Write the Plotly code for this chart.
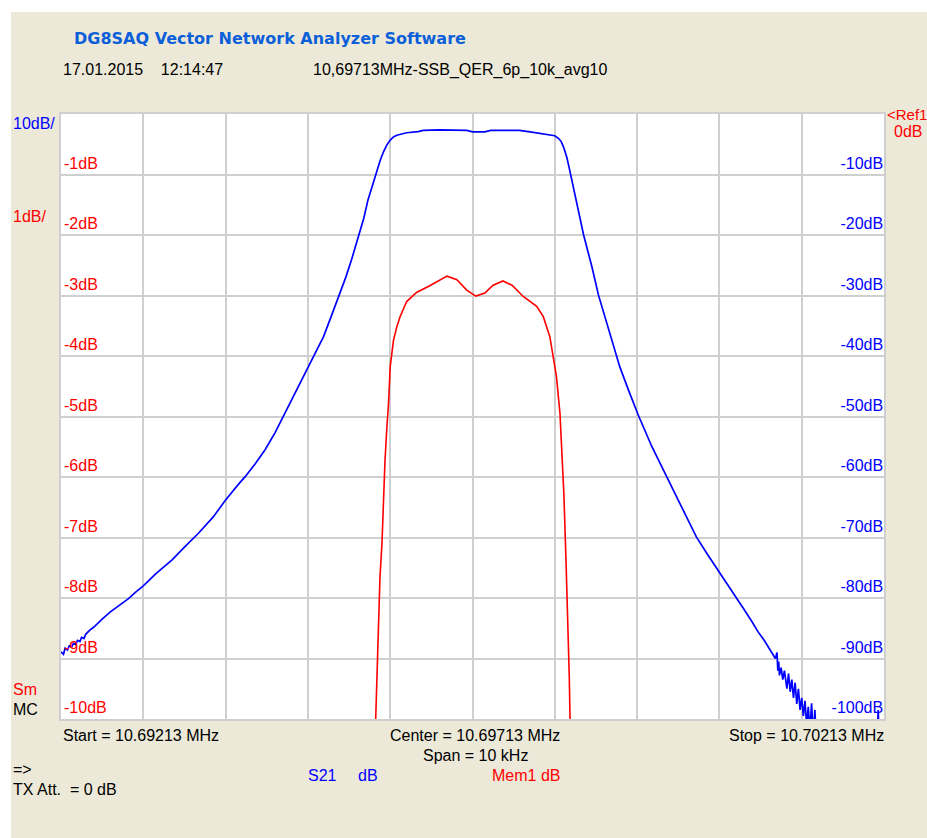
import plotly.graph_objects as go

# ---------------- data ----------------
center_mhz = 10.69713
span_khz = 10

# S21 (blue), offset from center in kHz, level in dB (10 dB/div)
s21_khz = [-5.00, -4.97, -4.95, -4.92, -4.90, -4.87, -4.85, -4.82, -4.80, -4.77, -4.75, -4.72,
           -4.70, -4.65, -4.60, -4.55, -4.50, -4.40, -4.30, -4.18, -4.10, -4.00, -3.85,
           -3.65, -3.50, -3.33, -3.15, -3.00, -2.85, -2.76, -2.64, -2.52, -2.40, -2.28,
           -2.14, -2.00, -1.90, -1.81, -1.71, -1.61, -1.54, -1.47, -1.37, -1.32, -1.27,
           -1.21, -1.16, -1.12, -1.08, -1.04, -1.00, -0.96, -0.92, -0.80, -0.66, -0.60,
           -0.40, -0.20, -0.07, 0.00, 0.15, 0.22, 0.40, 0.57, 0.70, 0.82, 0.92, 1.00,
           1.05, 1.08, 1.11, 1.145, 1.175, 1.205, 1.245, 1.286, 1.35, 1.40, 1.45, 1.53,
           1.63, 1.70, 1.79, 1.90, 2.015, 2.18, 2.36, 2.54, 2.72, 2.86, 3.00, 3.15, 3.29,
           3.40, 3.47, 3.55, 3.62, 3.68, 3.70, 3.71, 3.72, 3.73, 3.75, 3.77, 3.79, 3.82,
           3.84, 3.86, 3.88, 3.90, 3.92, 3.94, 3.96, 3.98, 4.00, 4.02, 4.04, 4.06, 4.08,
           4.10, 4.12, 4.14, 4.16, 4.18, 4.22, 4.40, 4.70, 4.90, 4.93, 4.95, 5.00]
s21_db = [-88.9, -89.3, -88.3, -88.6, -87.9, -88.1, -87.5, -87.7, -87.0, -87.2, -86.5, -86.7,
          -86.0, -85.3, -84.8, -84.1, -83.5, -82.3, -81.3, -80.1, -79.1, -78.0, -76.0,
          -73.7, -71.6, -69.3, -66.6, -63.8, -61.3, -59.9, -57.8, -55.5, -52.7, -49.5,
          -45.8, -42.0, -39.3, -36.8, -33.2, -29.6, -27.0, -24.1, -19.7, -17.2, -14.2,
          -11.5, -9.3, -7.6, -6.2, -5.1, -4.3, -3.8, -3.5, -3.1, -2.9, -2.7,
          -2.64, -2.64, -2.7, -2.95, -2.95, -2.7, -2.64, -2.7, -2.95, -3.2, -3.35, -3.6,
          -4.1, -4.6, -5.6, -7.1, -8.9, -10.9, -13.4, -15.9, -20.0, -22.6, -25.2, -29.9,
          -34.6, -37.9, -41.8, -45.8, -49.8, -55.0, -60.0, -65.0, -69.9, -72.9, -75.7, -78.9, -81.7,
          -84.0, -85.6, -87.1, -88.6, -90.0, -89.0, -92.0, -90.5, -92.8, -91.5, -93.5, -92.0, -95.0,
          -92.5, -95.5, -93.5, -96.5, -94.0, -97.5, -95.0, -98.5, -96.5, -99.5, -97.0, -101.0, -98.0,
          -102.0, -97.4, -103.0, -98.5, -104.0, -106.0, -108.0, -108.0, -108.0, -98.5, -108.0, -108.0]

# Mem1 (red), offset from center in kHz, level in dB (1 dB/div)
mem1_khz = [-1.185, -1.176, -1.164, -1.144, -1.124, -1.10, -1.08, -1.063, -1.04, -1.02, -1.00,
            -0.98, -0.96, -0.92, -0.88, -0.80, -0.68, -0.52, -0.31, -0.19, -0.07, 0.04,
            0.15, 0.25, 0.37, 0.48, 0.62, 0.78, 0.86, 0.94, 0.98, 1.02, 1.063, 1.09, 1.11,
            1.136, 1.157, 1.176, 1.185, 1.19]
mem1_db = [-10.4, -10.0, -9.47, -8.47, -7.65, -7.10, -6.27, -5.72, -5.17, -4.78, -4.18,
           -3.96, -3.74, -3.52, -3.35, -3.10, -2.95, -2.84, -2.68, -2.74, -2.91, -3.01,
           -2.96, -2.83, -2.76, -2.83, -3.02, -3.18, -3.35, -3.68, -4.01, -4.34, -4.95, -5.61, -6.27,
           -7.37, -8.20, -9.30, -10.0, -10.4]

blue_ticks = [-10, -20, -30, -40, -50, -60, -70, -80, -90, -100]
red_ticks = [-1, -2, -3, -4, -5, -6, -7, -8, -9, -10]
x_grid = [-4, -3, -2, -1, 0, 1, 2, 3, 4]

# ---------------- layout helpers ----------------
W, H = 927, 838
L, R, T, B = 61, 884, 114, 719
PW, PH = R - L, B - T


def px(x):
    return (x - L) / PW


def py(y):
    return (B - y) / PH


BEIGE = "#ECE9D8"
GRID = "#CFCFCF"
BLUE = "#0000FF"
RED = "#FF0000"
FONT = "Liberation Sans"
FS = 16

fig = go.Figure()
fig.add_trace(go.Scatter(x=s21_khz, y=s21_db, mode="lines", yaxis="y",
                         line=dict(color=BLUE, width=1.7), showlegend=False))
fig.add_trace(go.Scatter(x=mem1_khz, y=mem1_db, mode="lines", yaxis="y2",
                         line=dict(color=RED, width=1.6), showlegend=False))

fig.update_layout(
    width=W, height=H,
    margin=dict(l=L, r=W - R, t=T, b=H - B, pad=0),
    paper_bgcolor=BEIGE, plot_bgcolor="white",
    font=dict(family=FONT, size=FS, color="black"),
    xaxis=dict(range=[-span_khz / 2, span_khz / 2], tickvals=x_grid, showticklabels=False,
               ticks="", showgrid=True, gridcolor=GRID, gridwidth=2, zeroline=False,
               showline=True, mirror=True, linecolor=GRID, linewidth=2),
    yaxis=dict(range=[-100, 0], side="right", tickvals=blue_ticks,
               ticktext=[f"{v}dB" for v in blue_ticks], ticklabelposition="inside top",
               tickfont=dict(color=BLUE, size=FS, family=FONT), ticks="",
               showgrid=True, gridcolor=GRID, gridwidth=2, zeroline=False,
               showline=True, mirror=True, linecolor=GRID, linewidth=2),
    yaxis2=dict(range=[-10, 0], side="left", overlaying="y", tickvals=red_ticks,
                ticktext=[f"{v}dB" for v in red_ticks], ticklabelposition="inside top",
                tickfont=dict(color=RED, size=FS, family=FONT), ticks="",
                showgrid=False, zeroline=False, showline=False),
)

# white outer strips (top and left)
fig.add_shape(type="rect", xref="paper", yref="paper", x0=px(0), x1=px(W), y0=py(12), y1=py(0),
              fillcolor="white", line=dict(width=0), layer="below")
fig.add_shape(type="rect", xref="paper", yref="paper", x0=px(0), x1=px(11), y0=py(H), y1=py(0),
              fillcolor="white", line=dict(width=0), layer="below")


def text(x, y, s, color="black", size=FS, anchor="left", bold=False, family=FONT):
    fig.add_annotation(x=px(x), y=py(y), xref="paper", yref="paper", text=f"<b>{s}</b>" if bold else s,
                       showarrow=False, xanchor=anchor, yanchor="middle",
                       font=dict(family=family, size=size, color=color))


text(72, 38, "DG8SAQ Vector Network Analyzer Software", color="#0B5FD9", size=16, bold=True,
     family="DejaVu Sans")
text(61, 70, "17.01.2015&nbsp;&nbsp;&nbsp;&nbsp;12:14:47")
text(311, 70, "10,69713MHz-SSB_QER_6p_10k_avg10")
text(11, 123, "10dB/", color=BLUE)
text(11, 216, "1dB/", color=RED)
text(885, 115, "&lt;Ref1", color=RED, size=15)
text(892, 131, "0dB", color=RED)
text(11, 689, "Sm", color=RED)
text(11, 709, "MC")
text(61, 735, f"Start = {center_mhz - span_khz / 2000:.5f} MHz")
text(475, 735, f"Center = {center_mhz:.5f} MHz", anchor="center")
text(475, 755, f"Span = {span_khz} kHz", anchor="center")
text(886, 735, f"Stop = {center_mhz + span_khz / 2000:.5f} MHz", anchor="right")
text(11, 769, "=&gt;")
text(11, 789, "TX Att.&nbsp;&nbsp;= 0 dB")
text(306, 775, "S21", color=BLUE)
text(356, 775, "dB", color=BLUE)
text(490, 775, "Mem1 dB", color=RED)

fig.write_html("out.html", config={"displayModeBar": False},
               post_script="document.body.style.margin='0';document.body.style.overflow='hidden';")
